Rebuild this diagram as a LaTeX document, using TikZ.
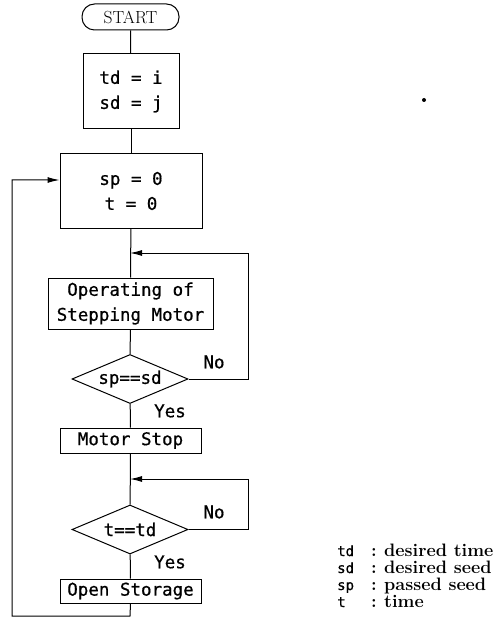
\documentclass[tikz,border=0pt]{standalone}
\usepackage{fontspec}
\newfontfamily\plotfont[FakeBold=0.7]{DejaVu Sans Mono}
\usetikzlibrary{shapes.geometric,arrows.meta,calc}
\begin{document}
\begin{tikzpicture}[x=1pt,y=-1pt,
  every node/.style={inner sep=0pt},
  box/.style={draw,line width=1pt,font=\plotfont\fontsize{17.5}{25}\selectfont,align=center},
  dia/.style={draw,line width=1pt,shape=diamond,aspect=2.37,minimum width=116pt,minimum height=49pt,font=\plotfont\fontsize{17.5}{20}\selectfont},
  lbl/.style={font=\plotfont\fontsize{17.5}{20}\selectfont},
  conn/.style={line width=1pt},
  arr/.style={line width=1pt,-{Latex[length=12pt,width=6pt]}},
  key/.style={font=\plotfont\fontsize{14}{16}\selectfont,anchor=base west},
  colon/.style={font=\rmfamily\bfseries\fontsize{18}{20}\selectfont,anchor=base},
  desc/.style={font=\rmfamily\bfseries\fontsize{18}{20}\selectfont,anchor=base west}
]
\useasboundingbox (0,0) rectangle (503,620);

% nodes
\node[draw,line width=1pt,rounded corners=12.5pt,minimum width=97pt,minimum height=26pt,
      font=\rmfamily\fontsize{17.5}{18}\selectfont] (start) at (130.5,17) {START};
\node[box,minimum width=96pt,minimum height=75pt] (init) at (131,91.5) {td = i\\sd = j};
\node[box,minimum width=142pt,minimum height=74pt] (reset) at (131,191) {sp = 0\\t = 0};
\node[box,minimum width=165pt,minimum height=51pt] (oper) at (130.5,303.5) {Operating of\\Stepping Motor};
\node[dia] (d1) at (130,379) {sp==sd};
\node[box,minimum width=141pt,minimum height=25pt] (mstop) at (130.5,440.5) {Motor Stop};
\node[dia] (d2) at (130,529.5) {t==td};
\node[box,minimum width=141pt,minimum height=24pt] (open) at (130.5,591) {Open Storage};

% labels
\node[lbl] (no1) at (214,362) {No};
\node[lbl] (yes1) at (170,411) {Yes};
\node[lbl] (no2) at (214,512) {No};
\node[lbl] (yes2) at (170,562) {Yes};

% junction coordinates
\coordinate (j1) at (130,253);
\coordinate (r1) at (248,253);
\coordinate (r1b) at (248,379);
\coordinate (j2) at (130,479);
\coordinate (r2) at (248,479);
\coordinate (r2b) at (248,529.5);
\coordinate (b1) at (130,616);
\coordinate (b2) at (12,616);
\coordinate (b3) at (12,180);

% connectors
\draw[conn] (start) -- (init);
\draw[conn] (init) -- (reset);
\draw[conn] (reset) -- (oper);
\draw[conn] (oper) -- (d1);
\draw[conn] (d1) -- (mstop);
\draw[conn] (mstop) -- (d2);
\draw[conn] (d2) -- (open);
\draw[arr] (d1.east) -- (r1b) -- (r1) -- (j1);
\draw[arr] (d2.east) -- (r2b) -- (r2) -- (j2);
\draw[arr] (open.south) -- (b1) -- (b2) -- (b3) -- ([yshift=11pt]reset.west);

% legend
\node[key] (k1) at (337,556) {td};
\node[key] (k2) at (337,573) {sd};
\node[key] (k3) at (337,590) {sp};
\node[key] (k4) at (337,607) {t};
\node[colon] (c1) at (374,556) {:};
\node[colon] (c2) at (374,573) {:};
\node[colon] (c3) at (374,590) {:};
\node[colon] (c4) at (374,607) {:};
\node[desc] (t1) at (384,556) {desired time};
\node[desc] (t2) at (384,573) {desired seed};
\node[desc] (t3) at (384,590) {passed seed};
\node[desc] (t4) at (384,607) {time};

% speck
\fill (424,100) circle (2pt);
\end{tikzpicture}
\end{document}
